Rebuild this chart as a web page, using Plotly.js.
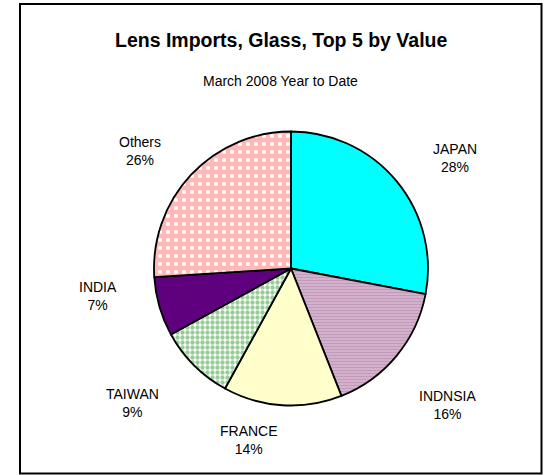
<!DOCTYPE html>
<html>
<head>
<meta charset="utf-8">
<script src="https://cdn.plot.ly/plotly-3.0.1.min.js"></script>
<style>html,body{margin:0;padding:0;background:#fff;}#chart{width:550px;height:475px;}</style>
</head>
<body>
<div id="chart"></div>
<script>
const countries = ["JAPAN", "INDNSIA", "FRANCE", "TAIWAN", "INDIA", "Others"];
const shares = [28, 16, 14, 9, 7, 26];
const chartTitle = "Lens Imports, Glass, Top 5 by Value";
const chartSubtitle = "March 2008 Year to Date";

const W = 550, H = 475;
const px = x => x / W;
const py = y => 1 - y / H;
const FONT = "Liberation Sans, Arial, sans-serif";

const sliceColors = ["#00FFFF", "#FFFFFF", "#FFFFCC", "#FFFFFF", "#5F007F", "#FFFFFF"];
const patShapes = ["", "-", "", ".", "", "+"];
const patFg = ["#000", "#8A3478", "#000", "#2F9A2F", "#000", "#FF7070"];
const patSize = [8, 3, 5, 5, 8, 8];
const patSolid = [0.3, 0.85, 0.3, 0.6, 0.3, 0.8];

// label centres (pixels) for each slice's label
const labelPos = [[455, 158], [447, 405], [249, 440], [132, 403], [98, 296], [140, 151]];

const annotations = [
  {text: "<b>" + chartTitle + "</b>", x: px(280.5), y: py(40), xref: "paper", yref: "paper",
   xanchor: "center", yanchor: "middle", showarrow: false, font: {family: FONT, size: 19.5, color: "#000"}},
  {text: chartSubtitle, x: px(280.5), y: py(81), xref: "paper", yref: "paper",
   xanchor: "center", yanchor: "middle", showarrow: false, font: {family: FONT, size: 14, color: "#000"}}
];
countries.forEach((c, i) => {
  annotations.push({
    text: c + "<br>" + shares[i] + "%", x: px(labelPos[i][0]), y: py(labelPos[i][1]),
    xref: "paper", yref: "paper", xanchor: "center", yanchor: "middle", showarrow: false, align: "center",
    font: {family: FONT, size: 14, color: "#000"}
  });
});

const cx = 291, cy = 268.5, r = 137;
const trace = {
  type: "pie",
  labels: countries,
  values: shares,
  sort: false,
  direction: "clockwise",
  rotation: 0,
  textinfo: "none",
  hoverinfo: "label+percent",
  domain: {x: [px(cx - r), px(cx + r)], y: [py(cy + r), py(cy - r)]},
  marker: {
    colors: sliceColors,
    line: {color: "#000", width: 1.8},
    pattern: {shape: patShapes, fgcolor: patFg, bgcolor: sliceColors, size: patSize, solidity: patSolid, fillmode: "overlay"}
  },
  showlegend: false
};

const layout = {
  width: W, height: H,
  margin: {l: 0, r: 0, t: 0, b: 0},
  paper_bgcolor: "#fff",
  showlegend: false,
  annotations: annotations,
  shapes: [{type: "rect", xref: "paper", yref: "paper", x0: px(20), x1: px(541.5), y0: py(473.5), y1: py(4),
            line: {color: "#000", width: 2}, fillcolor: "rgba(0,0,0,0)"}]
};

Plotly.newPlot("chart", [trace], layout, {displayModeBar: false, staticPlot: true});
</script>
</body>
</html>
